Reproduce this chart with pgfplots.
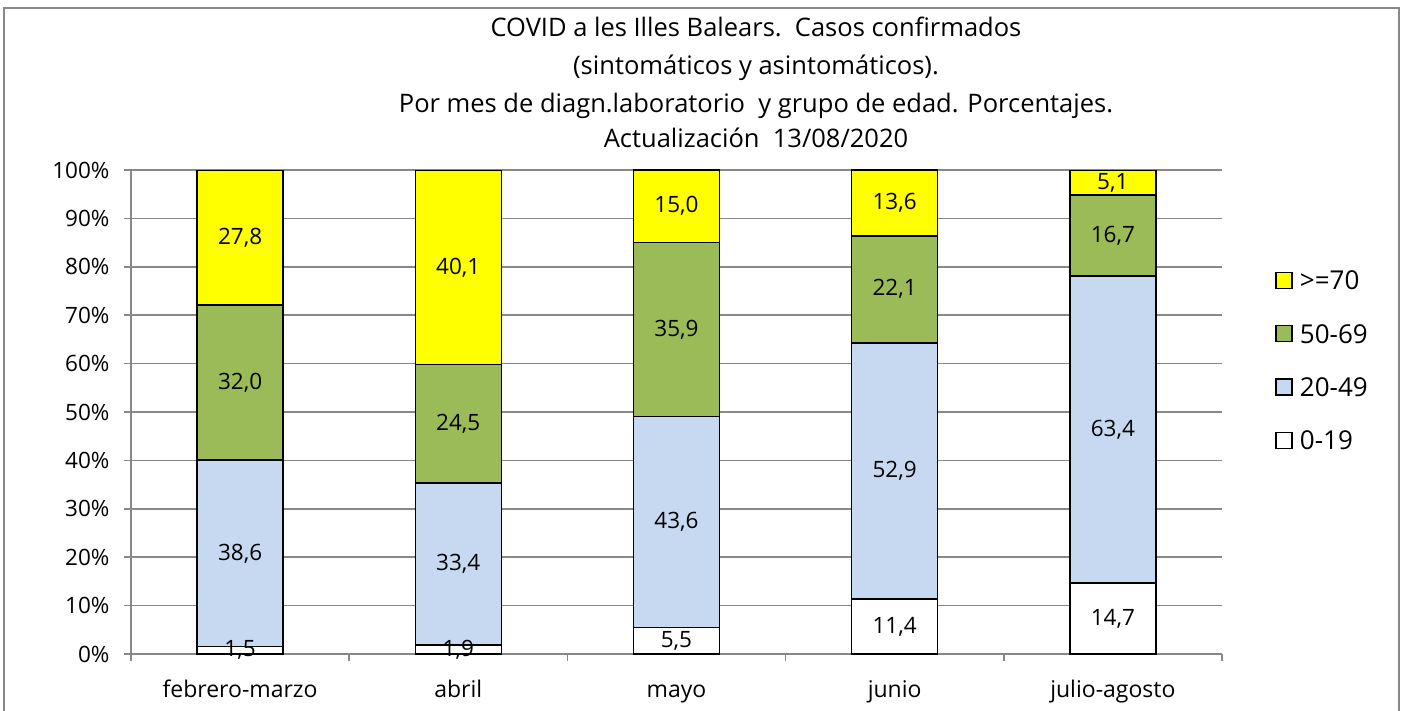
\documentclass[border=0pt]{standalone}
\usepackage{pgfplots}
\pgfplotsset{compat=1.18}
\usepackage{fontspec}
\setmainfont{Open Sans}
\definecolor{cy}{HTML}{FFFF00}
\definecolor{cg}{HTML}{9BBB59}
\definecolor{cb}{HTML}{C6D9F1}
\definecolor{gridc}{HTML}{888888}
\newcommand{\fs}[1]{\fontsize{#1pt}{#1pt}\selectfont}
\pgfplotsset{
  common/.style={
    at={(131pt,57pt)}, anchor=south west, scale only axis,
    width=1091pt, height=484pt,
    xmin=-0.5, xmax=4.5, ymin=0, ymax=100,
    clip=false,
  }
}
\begin{document}
\begin{tikzpicture}
\path[use as bounding box] (0pt,0pt) rectangle (1405pt,711pt);
\draw[gridc, line width=2pt] (4pt,0pt) -- (4pt,703pt) -- (1399pt,703pt) -- (1399pt,0pt);
\node[anchor=base, font=\fs{25.5}] at (756pt,674pt) {COVID a les Illes Balears.\ \ Casos confirmados};
\node[anchor=base, font=\fs{25.5}] at (756pt,636pt) {(sintomáticos y asintomáticos).};
\node[anchor=base, font=\fs{25.5}] at (756pt,598pt) {Por mes de diagn.laboratorio\ \ y grupo de edad. Porcentajes.};
\node[anchor=base, font=\fs{25.5}] at (756pt,563pt) {Actualización\ \ 13/08/2020};
\begin{axis}[
  common,
  ybar stacked, bar width=86pt,
  axis lines*=left,
  axis line style={gridc, line width=1.5pt},
  ytick={0,10,...,100},
  yticklabel={\pgfmathprintnumber{\tick}\%},
  yticklabel style={font=\fs{22.5}, xshift=-11pt},
  ymajorgrids, grid style={gridc, line width=1.5pt},
  tick align=outside,
  major tick length=7pt,
  tick style={gridc, line width=1.5pt},
  xtick={-0.5,0.5,...,4.5},
  xticklabels={},
  extra x ticks={0,1,2,3,4},
  extra x tick labels={febrero-marzo,abril,mayo,junio,julio-agosto},
  extra x tick style={major tick length=0pt, xticklabel style={font=\fs{23}, text height=17pt, text depth=6pt, yshift=-23pt}},
  /pgf/number format/assume math mode=true,
  every axis plot/.append style={draw=black, line width=1.5pt},
  legend style={at={(rel axis cs:1.046,0.80)}, anchor=north west, draw=none, font=\fs{26}, row sep=29pt, fill=none},
  legend cell align=left,
  reverse legend,
  legend image code/.code={\path[draw=none, fill=none] (0pt,0pt) -- (22pt,0pt); \draw[#1, draw=black, line width=1.3pt] (0pt,-7pt) rectangle (16pt,9pt);},
]
\addplot[fill=white] coordinates {(0,1.5) (1,1.9) (2,5.5) (3,11.4) (4,14.7)};
\addplot[fill=cb] coordinates {(0,38.6) (1,33.4) (2,43.6) (3,52.9) (4,63.4)};
\addplot[fill=cg] coordinates {(0,32.0) (1,24.5) (2,35.9) (3,22.1) (4,16.7)};
\addplot[fill=cy] coordinates {(0,27.8) (1,40.1) (2,15.0) (3,13.6) (4,5.1)};
\legend{0-19,20-49,50-69,>=70}
\end{axis}
\begin{axis}[
  common, hide axis,
  nodes near coords, point meta=explicit symbolic,
  every node near coord/.append style={anchor=center, font=\fs{22.5}, text=black},
]
\addplot[only marks, mark=none] coordinates {
  (0,0.75)[1,5] (0,20.8)[38,6] (0,56.1)[32,0] (0,86.0)[27,8]
  (1,0.95)[1,9] (1,18.6)[33,4] (1,47.55)[24,5] (1,79.85)[40,1]
  (2,2.75)[5,5] (2,27.3)[43,6] (2,67.05)[35,9] (2,92.5)[15,0]
  (3,5.7)[11,4] (3,37.85)[52,9] (3,75.35)[22,1] (3,93.2)[13,6]
  (4,7.35)[14,7] (4,46.4)[63,4] (4,86.45)[16,7] (4,97.35)[5,1]
};
\end{axis}
\end{tikzpicture}
\end{document}
